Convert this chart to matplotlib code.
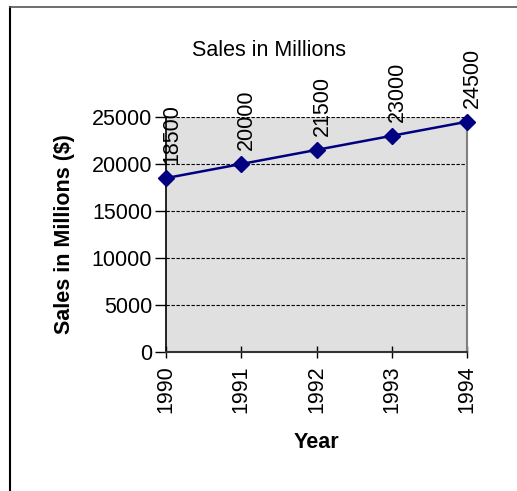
import matplotlib
matplotlib.use('Agg')
import matplotlib.pyplot as plt
from matplotlib.lines import Line2D

plt.rcParams['font.family'] = ['Liberation Sans', 'DejaVu Sans']

years = ['1990', '1991', '1992', '1993', '1994']
sales = [18500, 20000, 21500, 23000, 24500]
y_ticks = [0, 5000, 10000, 15000, 20000, 25000]

fs = 15.5
fig = plt.figure(figsize=(5.17, 4.91), dpi=100)
ax = fig.add_axes([166 / 517, 1 - 352 / 491, 301 / 517, 235 / 491])
ax.set_facecolor('#e0e0e0')

x = list(range(len(years)))
ax.plot(x, sales, color='#000080', lw=1.8, marker='D', ms=8.5,
        mfc='#000080', mec='#000080', clip_on=False, zorder=5)

for xi, v in zip(x, sales):
    ax.annotate(str(v), (xi, v), xytext=(4, 10), textcoords='offset points',
                rotation=90, ha='center', va='bottom', fontsize=fs,
                annotation_clip=False)

ax.set_xlim(0, 4)
ax.set_ylim(0, 25000)
ax.set_xticks(x)
ax.set_xticklabels(years, rotation=90, fontsize=fs)
ax.set_yticks(y_ticks)
ax.set_yticklabels([str(t) for t in y_ticks], fontsize=fs)
ax.tick_params(axis='x', direction='inout', length=9, width=1, pad=5)
ax.tick_params(axis='y', direction='out', length=8, width=1, pad=2)

# dashed gridlines
for t in y_ticks[1:]:
    ax.axhline(t, color='black', lw=0.8, ls=(0, (3, 1.5)), zorder=1)

ax.spines['top'].set_visible(False)
ax.spines['right'].set_color('#808080')
ax.spines['right'].set_linewidth(1.5)
ax.spines['left'].set_linewidth(1.2)
ax.spines['bottom'].set_linewidth(1.5)
ax.spines['bottom'].set_color('#333333')

# title sits left of the plot centre, like the original
ax.set_title('Sales in Millions', fontsize=fs, pad=44, x=0.342)
ax.set_xlabel('Year', fontsize=fs, fontweight='bold', labelpad=14)
ax.set_ylabel('Sales in Millions ($)', fontsize=fs, fontweight='bold', labelpad=12)

# chart border (left and top visible)
fig.add_artist(Line2D([10 / 517, 10 / 517], [0, 1 - 7 / 491], color='black', lw=1.5))
fig.add_artist(Line2D([10 / 517, 1], [1 - 7 / 491, 1 - 7 / 491], color='#555555', lw=1.2))

fig.savefig('out.png', dpi=100)
